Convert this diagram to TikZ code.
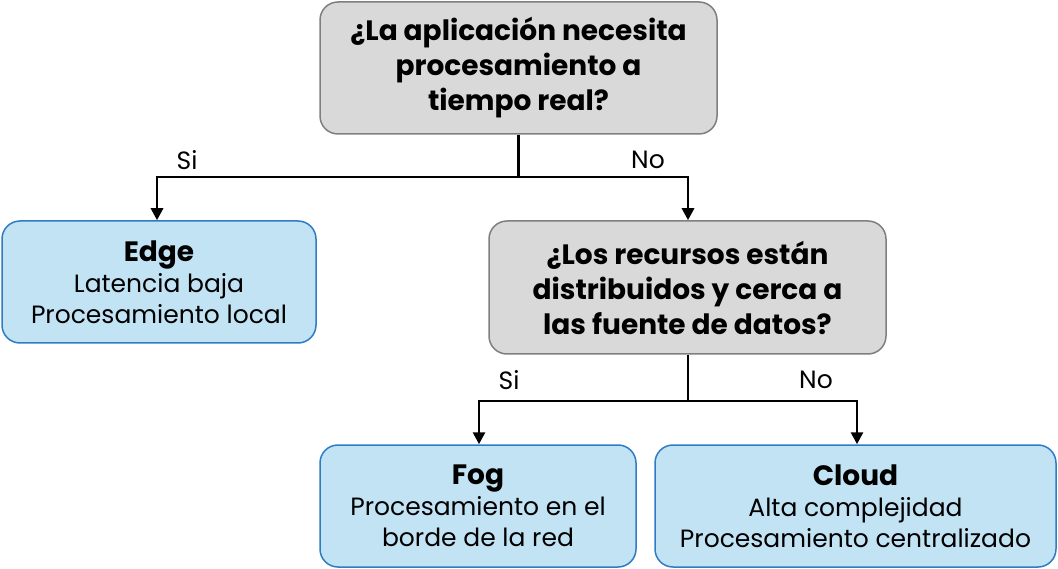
\documentclass[tikz,border=0pt]{standalone}
\usepackage{fontspec}
\setmainfont{Poppins}
\usetikzlibrary{arrows.meta}
\definecolor{qfill}{HTML}{D9D9D9}
\definecolor{qdraw}{HTML}{7F7F7F}
\definecolor{afill}{HTML}{C2E3F4}
\definecolor{adraw}{HTML}{2E7DC4}
\tikzset{
  qbox/.style={draw=qdraw, fill=qfill, line width=1.5pt, rounded corners=18pt, align=center, font=\fontsize{28}{35}\selectfont\bfseries},
  abox/.style={draw=adraw, fill=afill, line width=1.5pt, rounded corners=18pt, align=center, font=\fontsize{25}{31}\selectfont},
  ttl/.style={font=\fontsize{28}{31}\selectfont\bfseries},
  conn/.style={line width=2.8pt, -{Triangle[length=12pt,width=12pt]}},
  line/.style={line width=2.8pt},
  lbl/.style={font=\fontsize{25}{28}\selectfont}
}
\newcommand{\ttlfont}{\fontsize{28}{31}\selectfont\bfseries}
\begin{document}
\begin{tikzpicture}[x=1pt,y=-1pt]
\useasboundingbox (0,0) rectangle (1058,569);
\node[qbox, minimum width=397pt, minimum height=132pt] (q1) at (518.5,68) {¿La aplicación necesita\\procesamiento a\\tiempo real?};
\node[abox, minimum width=314pt, minimum height=122pt] (edge) at (159,282) {{\ttlfont Edge}\\Latencia baja\\Procesamiento local};
\node[qbox, minimum width=397pt, minimum height=133pt] (q2) at (687.5,287.5) {¿Los recursos están\\distribuidos y cerca a\\las fuente de datos?};
\node[abox, minimum width=316pt, minimum height=122pt] (fog) at (478,506) {{\ttlfont Fog}\\Procesamiento en el\\borde de la red};
\node[abox, minimum width=401pt, minimum height=122pt] (cloud) at (855.5,506) {{\ttlfont Cloud}\\Alta complejidad\\Procesamiento centralizado};
% connectors
\coordinate (j1) at (518.5,177);
\coordinate (j1l) at (157,177);
\coordinate (j1r) at (688,177);
\draw[line] (q1.south) -- (j1);
\draw[conn] (j1) -- (j1l) -- (j1l |- edge.north);
\draw[conn] (j1) -- (j1r) -- (j1r |- q2.north);
\node[lbl] (si1) at (187,160) {Si};
\node[lbl] (no1) at (648,160) {No};
\coordinate (j2) at (688,401);
\coordinate (j2l) at (479,401);
\coordinate (j2r) at (857,401);
\draw[line] (q2.south -| j2) -- (j2);
\draw[conn] (j2) -- (j2l) -- (j2l |- fog.north);
\draw[conn] (j2) -- (j2r) -- (j2r |- cloud.north);
\node[lbl] (si2) at (509,380) {Si};
\node[lbl] (no2) at (816,380) {No};
\end{tikzpicture}
\end{document}
